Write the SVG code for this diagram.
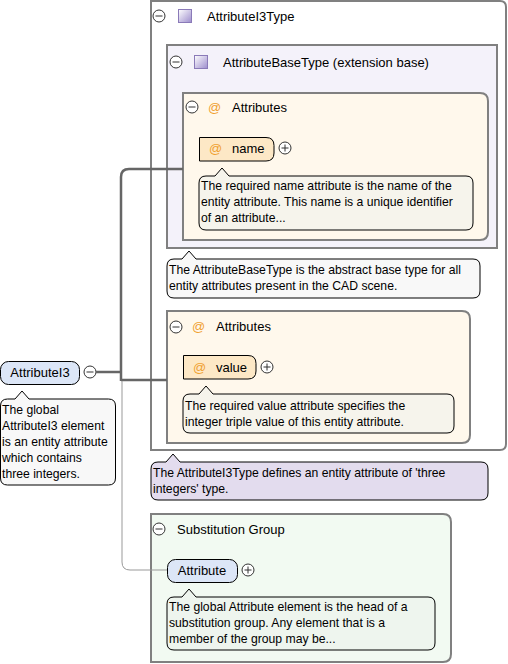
<svg xmlns="http://www.w3.org/2000/svg" width="508" height="664" viewBox="0 0 508 664">
<defs>
<linearGradient id="sep" x1="0" y1="0" x2="1" y2="0">
<stop offset="0" stop-color="#e0e0e0"/>
<stop offset="0.45" stop-color="#8a8a8a"/>
<stop offset="1" stop-color="#ffffff" stop-opacity="0"/>
</linearGradient>
<linearGradient id="ico" x1="0" y1="0" x2="1" y2="1">
<stop offset="0" stop-color="#ffffff"/>
<stop offset="1" stop-color="#9c8ccc"/>
</linearGradient>
<style>
text{font-family:"Liberation Sans",Arial,sans-serif;fill:#000}
.t{font-size:13px}
.tip{font-size:12.2px}
.at{font-size:13px;fill:#f0a030}
.box{stroke:#808080;stroke-width:2}
.tt{stroke:#000;stroke-width:1}
.btn{fill:#fff;stroke:#333;stroke-width:1}
.btnl{stroke:#333;stroke-width:1}
.sep{stroke:url(#sep);stroke-width:2}
.node{fill:#dce6f7;stroke:#000;stroke-width:1}
.anode{fill:#fde8c6;stroke:#000;stroke-width:1}
.ic{fill:url(#ico);stroke:#8a7ab8;stroke-width:1}
.con{fill:none;stroke:#666;stroke-width:2.5}
.con2{fill:none;stroke:#999;stroke-width:1}
</style>
</defs>

<g id="AttributeI3Type">
<path class="box" fill="#fff" d="M151,1 H500 Q506,1 506,7 V444 Q506,450 500,450 H151 Z"/>
<circle class="btn" cx="159" cy="16" r="6"/><path class="btnl" d="M155.5,16 H162.5"/>
<rect class="ic" x="178.5" y="9.5" width="13" height="13"/>
<text class="t" x="207" y="21">AttributeI3Type</text>
<line class="sep" x1="155" y1="33" x2="420" y2="33"/>
</g>

<g id="AttributeBaseType">
<rect class="box" x="167" y="45" width="330" height="203" fill="#f4f2fa"/>
<circle class="btn" cx="176" cy="62" r="6"/><path class="btnl" d="M172.5,62 H179.5"/>
<rect class="ic" x="194.5" y="55.5" width="13" height="13"/>
<text class="t" x="223" y="67">AttributeBaseType (extension base)</text>
<line class="sep" x1="170" y1="79" x2="418" y2="79"/>
</g>

<g id="Attributes1">
<path class="box" fill="#fff8ec" d="M183,93 H480 Q488,93 488,101 V232 Q488,240 480,240 H183 Z"/>
<circle class="btn" cx="192" cy="107" r="6"/><path class="btnl" d="M188.5,107 H195.5"/>
<text class="at" x="208" y="112">@</text>
<text class="t" x="232" y="112">Attributes</text>
<line class="sep" x1="186" y1="123" x2="413" y2="123"/>
</g>

<g id="name">
<path class="anode" d="M199.5,137.5 H266 Q274,137.5 274,145.5 V153 Q274,161 266,161 H199.5 Z"/>
<text class="at" x="209" y="153">@</text>
<text class="t" x="232" y="153">name</text>
<circle class="btn" cx="285" cy="148" r="6"/><path class="btnl" d="M281.5,148 H288.5 M285,144.5 V151.5"/>
</g>

<g id="name-doc">
<path class="tt" fill="#f6f4ec" d="M206,176 H215 L222,168 L229,176 H466 Q473,176 473,183 V223 Q473,230 466,230 H206 Q199,230 199,223 V183 Q199,176 206,176 Z"/>
<text class="tip" x="201" y="190">The required name attribute is the name of the</text>
<text class="tip" x="201" y="206">entity attribute. This name is a unique identifier</text>
<text class="tip" x="201" y="222">of an attribute...</text>
</g>

<g id="AttributeBaseType-doc">
<path class="tt" fill="#f8f8f8" d="M174,259 H182 L189,251 L196,259 H473 Q480,259 480,266 V291 Q480,298 473,298 H174 Q167,298 167,291 V266 Q167,259 174,259 Z"/>
<text class="tip" x="169" y="274">The AttributeBaseType is the abstract base type for all</text>
<text class="tip" x="169" y="290">entity attributes present in the CAD scene.</text>
</g>

<g id="Attributes2">
<path class="box" fill="#fff8ec" d="M167,311 H462 Q470,311 470,319 V435 Q470,443 462,443 H167 Z"/>
<circle class="btn" cx="176" cy="327" r="6"/><path class="btnl" d="M172.5,327 H179.5"/>
<text class="at" x="192" y="331">@</text>
<text class="t" x="216" y="331">Attributes</text>
<line class="sep" x1="170" y1="342" x2="395" y2="342"/>
</g>

<g id="value">
<path class="anode" d="M183.5,355.5 H248 Q256,355.5 256,363.5 V371 Q256,379 248,379 H183.5 Z"/>
<text class="at" x="193" y="372">@</text>
<text class="t" x="216" y="372">value</text>
<circle class="btn" cx="267" cy="367" r="6"/><path class="btnl" d="M263.5,367 H270.5 M267,363.5 V370.5"/>
</g>

<g id="value-doc">
<path class="tt" fill="#f6f4ec" d="M190,394 H199 L206,386 L213,394 H447 Q454,394 454,401 V426 Q454,433 447,433 H190 Q183,433 183,426 V401 Q183,394 190,394 Z"/>
<text class="tip" x="185" y="410">The required value attribute specifies the</text>
<text class="tip" x="185" y="426">integer triple value of this entity attribute.</text>
</g>

<g id="AttributeI3Type-doc">
<path class="tt" fill="#e3dcee" d="M158,462 H166 L173,454 L180,462 H481 Q488,462 488,469 V493 Q488,500 481,500 H158 Q151,500 151,493 V469 Q151,462 158,462 Z"/>
<text class="tip" x="153" y="477">The AttributeI3Type defines an entity attribute of 'three</text>
<text class="tip" x="153" y="493">integers' type.</text>
</g>

<g id="AttributeI3">
<rect class="node" x="0.5" y="361.5" width="79" height="23" rx="8"/>
<text class="t" x="40" y="377" text-anchor="middle">AttributeI3</text>
<circle class="btn" cx="90" cy="372" r="6"/><path class="btnl" d="M86.5,372 H93.5"/>
</g>

<g id="AttributeI3-doc">
<path class="tt" fill="#f8f8f8" d="M7.5,399 H15 L22,391 L29,399 H108.5 Q115.5,399 115.5,406 V478 Q115.5,485 108.5,485 H7.5 Q0.5,485 0.5,478 V406 Q0.5,399 7.5,399 Z"/>
<text class="tip" x="2" y="414">The global</text>
<text class="tip" x="2" y="430">AttributeI3 element</text>
<text class="tip" x="2" y="446">is an entity attribute</text>
<text class="tip" x="2" y="462">which contains</text>
<text class="tip" x="2" y="478">three integers.</text>
</g>

<g id="SubstitutionGroup">
<path class="box" fill="#f2faf2" d="M151,514 H443 Q451,514 451,522 V654 Q451,662 443,662 H151 Z"/>
<circle class="btn" cx="159" cy="529" r="6"/><path class="btnl" d="M155.5,529 H162.5"/>
<text class="t" x="177" y="534">Substitution Group</text>
<line class="sep" x1="155" y1="545" x2="377" y2="545"/>
</g>

<g id="Attribute">
<rect class="node" x="167.5" y="559.5" width="70" height="23" rx="8"/>
<text class="t" x="202" y="575" text-anchor="middle">Attribute</text>
<circle class="btn" cx="248" cy="570" r="6"/><path class="btnl" d="M244.5,570 H251.5 M248,566.5 V573.5"/>
</g>

<g id="Attribute-doc">
<path class="tt" fill="#eef5ee" d="M174,597 H182 L189,589 L196,597 H428 Q435,597 435,604 V643 Q435,650 428,650 H174 Q167,650 167,643 V604 Q167,597 174,597 Z"/>
<text class="tip" x="169" y="611">The global Attribute element is the head of a</text>
<text class="tip" x="169" y="627">substitution group. Any element that is a</text>
<text class="tip" x="169" y="643">member of the group may be...</text>
</g>

<g id="connectors">
<path class="con" d="M96,372 H121"/>
<path class="con" d="M121,381 V177 Q121,169 129,169 H183"/>
<path class="con" d="M121,380 H167"/>
<path class="con2" d="M122,381 V562 Q122,570 130,570 H167"/>
</g>
</svg>
